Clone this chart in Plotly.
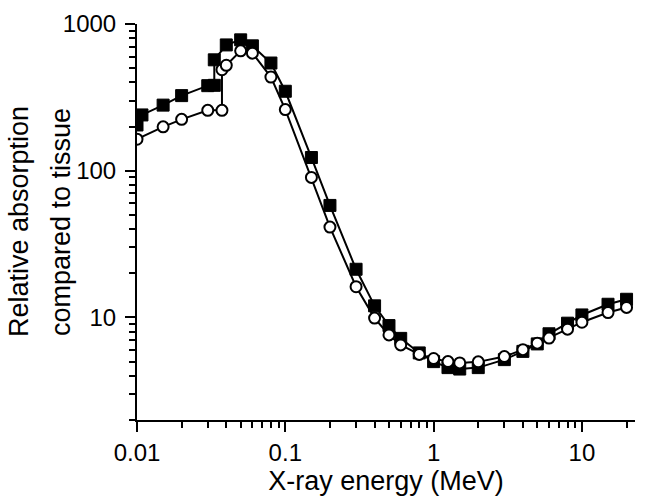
import plotly.graph_objects as go
import numpy as np

# Series 1 (filled squares)
energy_sq = [0.01, 0.0108, 0.015, 0.02, 0.03, 0.0332, 0.0332, 0.04, 0.05, 0.06, 0.08, 0.1,
             0.15, 0.2, 0.3, 0.4, 0.5, 0.6, 0.8, 1, 1.25, 1.5, 2, 3, 4, 5, 6, 8, 10, 15, 20]
value_sq = [205, 240, 280, 325, 380, 382, 570, 720, 780, 710, 542, 348,
            123, 58, 21.3, 12.0, 8.8, 7.2, 5.73, 5.0, 4.55, 4.45, 4.55, 5.16, 5.87, 6.6, 7.74, 9.14, 10.4, 12.3, 13.3]

# Series 2 (open circles)
energy_ci = [0.01, 0.015, 0.02, 0.03, 0.0374, 0.0374, 0.04, 0.05, 0.06, 0.08, 0.1,
             0.15, 0.2, 0.3, 0.4, 0.5, 0.6, 0.8, 1, 1.25, 1.5, 2, 3, 4, 5, 6, 8, 10, 15, 20]
value_ci = [164, 199, 224, 258, 258, 488, 523, 656, 633, 435, 261,
            90, 41.3, 16.2, 9.9, 7.6, 6.5, 5.6, 5.25, 5.0, 4.9, 4.98, 5.41, 6.03, 6.68, 7.23, 8.32, 9.28, 10.8, 11.7]

x_ticks = [0.01, 0.1, 1, 10]
x_ticktext = ["0.01", "0.1", "1", "10"]
y_ticks = [10, 100, 1000]
y_ticktext = ["10", "100", "1000"]

x_minor = [k * 10.0 ** d for d in range(-2, 2) for k in range(2, 10)]
y_minor = [k * 10.0 ** d for d in range(0, 3) for k in range(2, 10)]

FONT = "Liberation Sans, Arial, sans-serif"

fig = go.Figure()
fig.add_trace(go.Scatter(
    x=energy_sq, y=value_sq, mode="lines+markers",
    line=dict(color="black", width=2),
    marker=dict(symbol="square", size=12, color="black", line=dict(color="black", width=1)),
    showlegend=False))
fig.add_trace(go.Scatter(
    x=energy_ci, y=value_ci, mode="lines+markers",
    line=dict(color="black", width=2),
    marker=dict(symbol="circle", size=11, color="white", line=dict(color="black", width=2)),
    showlegend=False))

axis_common = dict(
    type="log", showgrid=False, zeroline=False, showline=True, linecolor="black", linewidth=2,
    ticks="outside", ticklen=10, tickwidth=2, tickcolor="black",
    tickfont=dict(family=FONT, size=24, color="black"), mirror=False,
)

fig.update_xaxes(
    **axis_common,
    range=[-2, np.log10(22.8)],
    tickmode="array", tickvals=x_ticks, ticktext=x_ticktext,
    minor=dict(tickmode="array", tickvals=x_minor, ticks="outside", ticklen=6, tickwidth=2, tickcolor="black", showgrid=False),
    title=dict(text="X-ray energy (MeV)", font=dict(family=FONT, size=27, color="black"), standoff=4),
)
fig.update_yaxes(
    **axis_common,
    range=[np.log10(2), 3],
    tickmode="array", tickvals=y_ticks, ticktext=y_ticktext,
    minor=dict(tickmode="array", tickvals=y_minor, ticks="outside", ticklen=6, tickwidth=2, tickcolor="black", showgrid=False),
    ticklabelstandoff=4,
)

plot_w = 645 - 137 - 10
fig.add_annotation(text="Relative absorption", textangle=-90, xref="paper", yref="paper",
                   x=(19 - 137) / plot_w, y=0.5, xanchor="center", yanchor="middle", showarrow=False,
                   font=dict(family=FONT, size=27, color="black"))
fig.add_annotation(text="compared to tissue", textangle=-90, xref="paper", yref="paper",
                   x=(61 - 137) / plot_w, y=0.5, xanchor="center", yanchor="middle", showarrow=False,
                   font=dict(family=FONT, size=27, color="black"))

fig.update_layout(
    width=645, height=504,
    margin=dict(l=137, r=10, t=21, b=84),
    plot_bgcolor="white", paper_bgcolor="white",
    font=dict(family=FONT, color="black"),
)

fig.write_html("out.html", config={"displayModeBar": False},
               post_script="document.body.style.margin='0';document.body.style.overflow='hidden';")
